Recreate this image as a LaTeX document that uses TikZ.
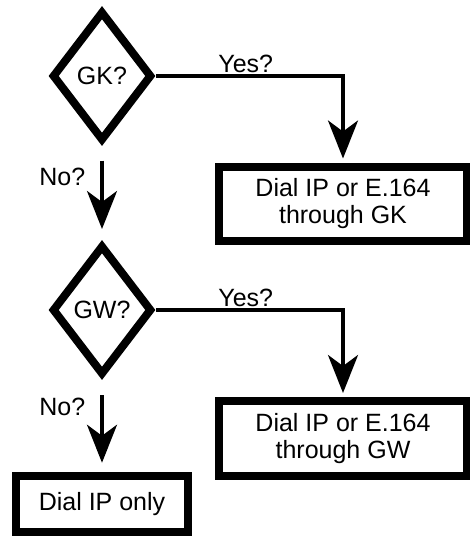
\documentclass[tikz,border=0pt]{standalone}
\usepackage{fontspec}
\setmainfont{Liberation Sans}
\usetikzlibrary{shapes.geometric,arrows.meta}
\tikzset{
  txt/.style={font=\fontsize{25}{27}\selectfont},
  decision/.style={txt, diamond, draw, line width=8pt, inner sep=0pt,
    minimum width=100pt, minimum height=130pt},
  action/.style={txt, rectangle, draw, line width=8pt, inner sep=0pt, align=center},
  arr/.style={line width=3.5pt, -{Stealth[length=38pt,width=30pt,inset=11pt]}},
  lbl/.style={txt, inner sep=0pt}
}
\begin{document}
\begin{tikzpicture}[x=1pt,y=-1pt]
\useasboundingbox (0,0) rectangle (469,538);
\node[decision] (gk) at (102,76) {GK?};
\node[decision] (gw) at (102,310) {GW?};
\node[action, minimum width=248pt, minimum height=74pt] (bgk) at (343,203.5) {Dial IP or E.164\\through GK};
\node[action, minimum width=248pt, minimum height=75pt] (bgw) at (343,438.5) {Dial IP or E.164\\through GW};
\node[action, minimum width=172pt, minimum height=56.5pt] (bip) at (102,504) {Dial IP only};
\draw[arr, shorten >=4pt] (gk.east) -| node[lbl, pos=0.24, above, yshift=1.5pt] {Yes?} (bgk.north);
\draw[arr, shorten >=4pt] (gw.east) -| node[lbl, pos=0.24, above, yshift=1.5pt] {Yes?} (bgw.north);
\draw[arr, shorten <=15.5pt, shorten >=12pt] (gk.south) -- node[lbl, pos=0.33, anchor=east, xshift=-15pt] {No?} (gw.north);
\draw[arr, shorten <=16pt, shorten >=9pt] (gw.south) -- node[lbl, pos=0.30, anchor=east, xshift=-15pt] {No?} (bip.north);
\end{tikzpicture}
\end{document}
